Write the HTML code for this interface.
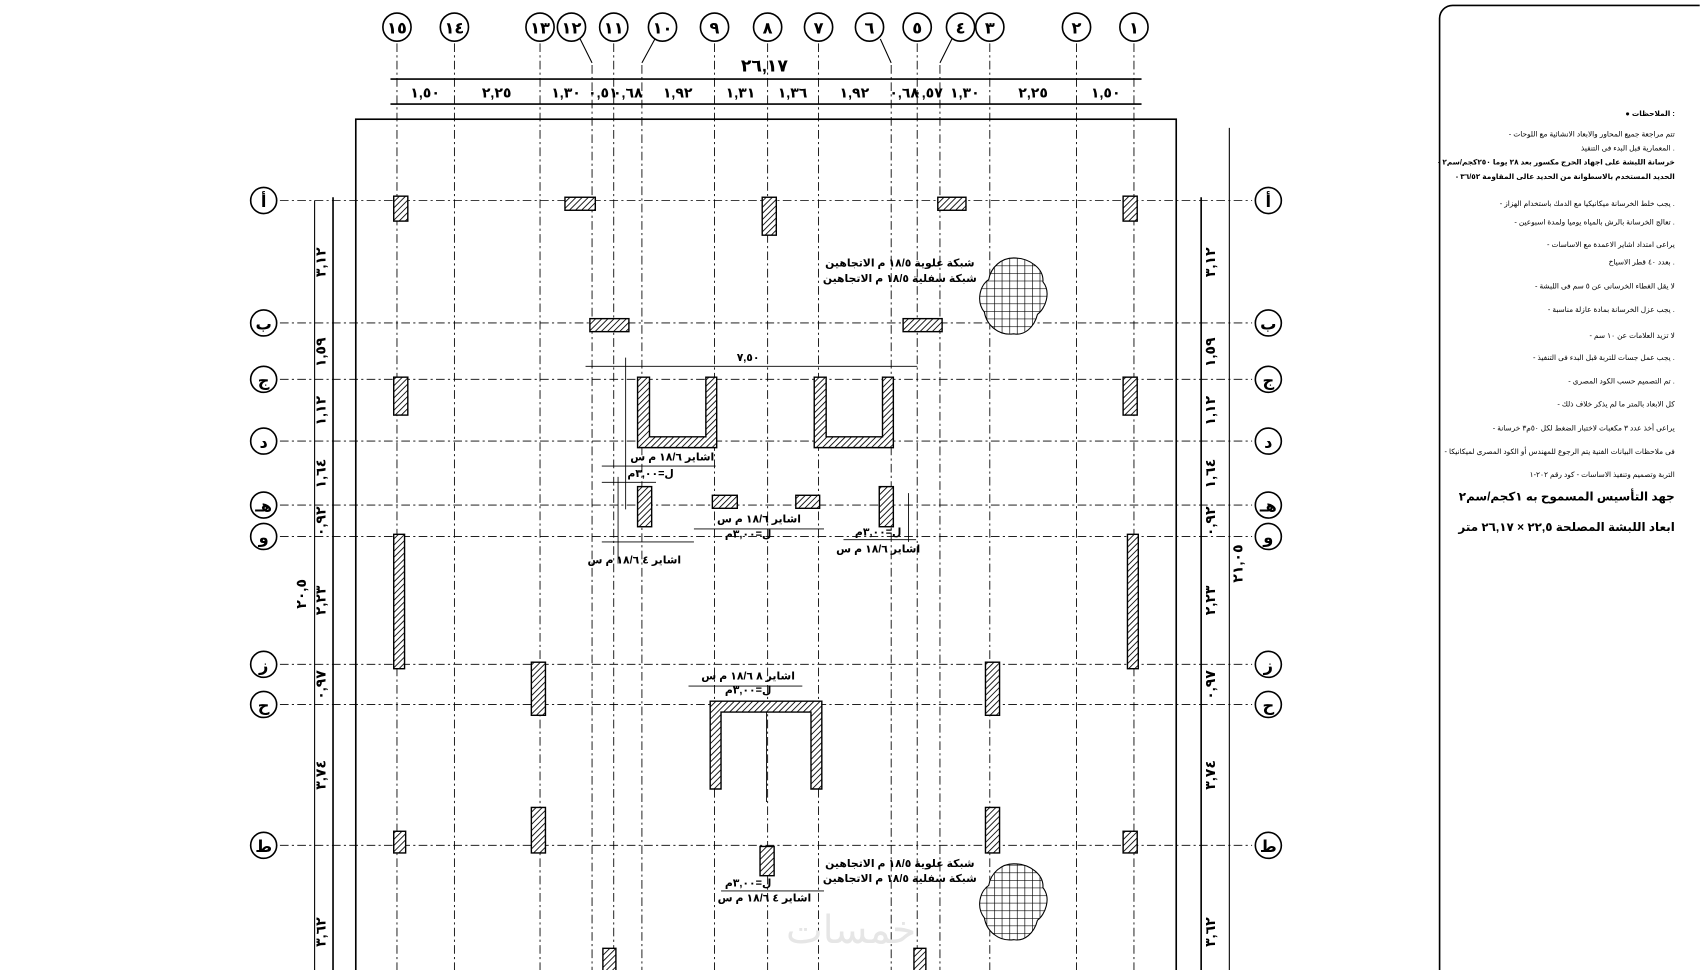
<!DOCTYPE html>
<html><head><meta charset="utf-8"><style>
html,body{margin:0;padding:0;background:#fff;width:1700px;height:970px;overflow:hidden}
svg{display:block}
text{font-family:"Liberation Sans","DejaVu Sans",sans-serif;fill:#000}
</style></head><body>
<svg width="1700" height="970" viewBox="0 0 1568 895" xmlns="http://www.w3.org/2000/svg">
<defs>
<pattern id="h" width="4" height="4" patternUnits="userSpaceOnUse" patternTransform="rotate(45)"><rect width="4" height="4" fill="#fff"/><line x1="0" y1="0" x2="0" y2="4" stroke="#000" stroke-width="1.6"/></pattern>
<pattern id="g" width="7" height="7" patternUnits="userSpaceOnUse"><rect width="7" height="7" fill="#fff"/><path d="M0 0H7M0 0V7" stroke="#000" stroke-width="1.2"/></pattern>
</defs>
<rect width="1568" height="895" fill="#fff"/>
<g stroke="#000" stroke-width="0.8" stroke-dasharray="8,3,2,3">
<line x1="366" y1="40" x2="366" y2="895"/><line x1="419" y1="40" x2="419" y2="895"/>
<line x1="498" y1="40" x2="498" y2="895"/><line x1="546" y1="60" x2="546" y2="895"/>
<line x1="566" y1="40" x2="566" y2="895"/><line x1="592" y1="60" x2="592" y2="895"/>
<line x1="659" y1="40" x2="659" y2="895"/><line x1="708" y1="40" x2="708" y2="895"/>
<line x1="755" y1="40" x2="755" y2="895"/><line x1="822" y1="60" x2="822" y2="895"/>
<line x1="846" y1="40" x2="846" y2="895"/><line x1="867" y1="60" x2="867" y2="895"/>
<line x1="913" y1="40" x2="913" y2="895"/><line x1="993" y1="40" x2="993" y2="895"/>
<line x1="1046" y1="40" x2="1046" y2="895"/>
</g>
<g stroke="#000" stroke-width="0.8" stroke-dasharray="8,3,2,3">
<line x1="258" y1="185" x2="1155" y2="185"/><line x1="258" y1="298" x2="1155" y2="298"/>
<line x1="258" y1="350" x2="1155" y2="350"/><line x1="258" y1="407" x2="1155" y2="407"/>
<line x1="258" y1="466" x2="1155" y2="466"/><line x1="258" y1="495" x2="1155" y2="495"/>
<line x1="258" y1="613" x2="1155" y2="613"/><line x1="258" y1="650" x2="1155" y2="650"/>
<line x1="258" y1="780" x2="1155" y2="780"/>
</g>
<g fill="#fff" stroke="#000" stroke-width="1.5">
<circle cx="366" cy="25" r="13"/><circle cx="419" cy="25" r="13"/><circle cx="498" cy="25" r="13"/><circle cx="527" cy="25" r="13"/>
<circle cx="566" cy="25" r="13"/><circle cx="611" cy="25" r="13"/><circle cx="659" cy="25" r="13"/><circle cx="708" cy="25" r="13"/>
<circle cx="755" cy="25" r="13"/><circle cx="802" cy="25" r="13"/><circle cx="846" cy="25" r="13"/><circle cx="886" cy="25" r="13"/>
<circle cx="913" cy="25" r="13"/><circle cx="993" cy="25" r="13"/><circle cx="1046" cy="25" r="13"/>
</g>
<g font-size="15" font-weight="bold" text-anchor="middle">
<text x="366" y="31">١٥</text><text x="419" y="31">١٤</text><text x="498" y="31">١٣</text><text x="527" y="31">١٢</text>
<text x="566" y="31">١١</text><text x="611" y="31">١٠</text><text x="659" y="31">٩</text><text x="708" y="31">٨</text>
<text x="755" y="31">٧</text><text x="802" y="31">٦</text><text x="846" y="31">٥</text><text x="886" y="31">٤</text>
<text x="913" y="31">٣</text><text x="993" y="31">٢</text><text x="1046" y="31">١</text>
</g>
<g stroke="#000" stroke-width="1" fill="none">
<path d="M535 36 L546 58"/><path d="M604 36 L592 58"/><path d="M812 36 L822 58"/><path d="M878 36 L867 58"/>
<line x1="360" y1="73" x2="1053" y2="73" stroke-width="1.5"/>
<line x1="360" y1="96" x2="1053" y2="96" stroke-width="1.5"/>
<rect x="328" y="110" width="757" height="800" stroke-width="1.5"/>
<line x1="307" y1="182" x2="307" y2="895" stroke-width="1.5"/>
<line x1="290" y1="185" x2="290" y2="895"/>
<line x1="1108" y1="182" x2="1108" y2="895" stroke-width="1.5"/>
<line x1="1134" y1="118" x2="1134" y2="895"/>
</g>
<text x="705" y="66" font-size="16" font-weight="bold" text-anchor="middle">٢٦,١٧</text>
<g font-size="13" font-weight="bold" text-anchor="middle">
<text x="392" y="90">١,٥٠</text><text x="458" y="90">٢,٢٥</text><text x="522" y="90">١,٣٠</text><text x="556" y="90">٠,٥١</text>
<text x="579" y="90">٠,٦٨</text><text x="625" y="90">١,٩٢</text><text x="683" y="90">١,٣١</text><text x="731" y="90">١,٣٦</text>
<text x="788" y="90">١,٩٢</text><text x="834" y="90">٠,٦٨</text><text x="856" y="90">٠,٥٧</text><text x="890" y="90">١,٣٠</text>
<text x="953" y="90">٢,٢٥</text><text x="1020" y="90">١,٥٠</text>
</g>
<g fill="#fff" stroke="#000" stroke-width="1.5">
<circle cx="243" cy="185" r="12"/><circle cx="243" cy="298" r="12"/><circle cx="243" cy="350" r="12"/><circle cx="243" cy="407" r="12"/>
<circle cx="243" cy="466" r="12"/><circle cx="243" cy="495" r="12"/><circle cx="243" cy="613" r="12"/><circle cx="243" cy="650" r="12"/><circle cx="243" cy="780" r="12"/>
<circle cx="1170" cy="185" r="12"/><circle cx="1170" cy="298" r="12"/><circle cx="1170" cy="350" r="12"/><circle cx="1170" cy="407" r="12"/>
<circle cx="1170" cy="466" r="12"/><circle cx="1170" cy="495" r="12"/><circle cx="1170" cy="613" r="12"/><circle cx="1170" cy="650" r="12"/><circle cx="1170" cy="780" r="12"/>
</g>
<g font-size="15" font-weight="bold" text-anchor="middle">
<text x="243" y="191">أ</text><text x="243" y="304">ب</text><text x="243" y="356">ج</text><text x="243" y="413">د</text><text x="243" y="472">هـ</text><text x="243" y="501">و</text><text x="243" y="619">ز</text><text x="243" y="656">ح</text><text x="243" y="786">ط</text>
<text x="1170" y="191">أ</text><text x="1170" y="304">ب</text><text x="1170" y="356">ج</text><text x="1170" y="413">د</text><text x="1170" y="472">هـ</text><text x="1170" y="501">و</text><text x="1170" y="619">ز</text><text x="1170" y="656">ح</text><text x="1170" y="786">ط</text>
</g>
<g font-size="13" font-weight="bold" text-anchor="middle">
<text transform="translate(300,242) rotate(-90)">٣,١٢</text><text transform="translate(300,325) rotate(-90)">١,٥٩</text>
<text transform="translate(300,379) rotate(-90)">١,١٢</text><text transform="translate(300,437) rotate(-90)">١,٦٤</text>
<text transform="translate(300,481) rotate(-90)">٠,٩٢</text><text transform="translate(300,554) rotate(-90)">٢,٢٣</text>
<text transform="translate(300,632) rotate(-90)">٠,٩٧</text><text transform="translate(300,715) rotate(-90)">٣,٧٤</text>
<text transform="translate(300,860) rotate(-90)">٣,٦٢</text><text transform="translate(282,548) rotate(-90)">٢٠,٥</text>
<text transform="translate(1121,242) rotate(-90)">٣,١٢</text><text transform="translate(1121,325) rotate(-90)">١,٥٩</text>
<text transform="translate(1121,379) rotate(-90)">١,١٢</text><text transform="translate(1121,437) rotate(-90)">١,٦٤</text>
<text transform="translate(1121,481) rotate(-90)">٠,٩٢</text><text transform="translate(1121,554) rotate(-90)">٢,٢٣</text>
<text transform="translate(1121,632) rotate(-90)">٠,٩٧</text><text transform="translate(1121,715) rotate(-90)">٣,٧٤</text>
<text transform="translate(1121,860) rotate(-90)">٣,٦٢</text><text transform="translate(1146,520) rotate(-90)">٢١,٠٥</text>
</g>
<g fill="url(#h)" stroke="#000" stroke-width="1.3">
<rect x="363" y="181" width="13" height="23"/><rect x="521" y="182" width="28" height="12"/><rect x="703" y="182" width="13" height="35"/>
<rect x="865" y="182" width="26" height="12"/><rect x="1036" y="181" width="13" height="23"/>
<rect x="544" y="294" width="36" height="12"/><rect x="833" y="294" width="36" height="12"/>
<rect x="363" y="348" width="13" height="35"/><rect x="1036" y="348" width="13" height="35"/>
<path d="M588 348h11v55h52v-55h10v65h-73z"/><path d="M751 348h11v55h52v-55h10v65h-73z"/>
<rect x="588" y="449" width="13" height="37"/><rect x="657" y="457" width="23" height="12"/>
<rect x="734" y="457" width="22" height="12"/><rect x="811" y="449" width="13" height="37"/>
<rect x="363" y="493" width="10" height="124"/><rect x="1040" y="493" width="10" height="124"/>
<rect x="490" y="611" width="13" height="49"/><rect x="909" y="611" width="13" height="49"/>
<path d="M655 647h103v81h-10v-71h-83v71h-10z"/>
<rect x="363" y="767" width="11" height="20"/><rect x="490" y="745" width="13" height="42"/>
<rect x="909" y="745" width="13" height="42"/><rect x="1036" y="767" width="13" height="20"/>
<rect x="701" y="781" width="13" height="27"/>
<rect x="556" y="875" width="12" height="25"/><rect x="843" y="875" width="11" height="25"/>
</g>
<path d="M935 238c15 0 28 10 27 22 8 10 2 25-5 30-3 12-12 20-22 18-14 2-25-8-27-20-8-10-4-25 4-30 2-12 12-20 23-20z" fill="url(#g)" stroke="#000"/>
<path d="M935 797c15 0 28 10 27 22 8 10 2 25-5 30-3 12-12 20-22 18-14 2-25-8-27-20-8-10-4-25 4-30 2-12 12-20 23-20z" fill="url(#g)" stroke="#000"/>
<g stroke="#000" stroke-width="0.8" fill="none">
<line x1="540" y1="338" x2="846" y2="338"/><line x1="577" y1="330" x2="577" y2="470"/>
<line x1="555" y1="430" x2="660" y2="430"/><line x1="555" y1="445" x2="605" y2="445"/>
<line x1="640" y1="488" x2="760" y2="488"/><line x1="778" y1="498" x2="845" y2="498"/>
<line x1="555" y1="500" x2="640" y2="500"/><line x1="635" y1="633" x2="740" y2="633"/>
<line x1="707" y1="657" x2="707" y2="740"/><line x1="665" y1="822" x2="760" y2="822"/>
<line x1="838" y1="455" x2="838" y2="500"/><line x1="570" y1="440" x2="570" y2="520"/>
</g>
<g font-size="10" font-weight="bold" text-anchor="middle">
<text x="690" y="333">٧,٥٠</text><text x="620" y="425">اشاير ١٨/٦ م س</text><text x="600" y="440">ل=٣,٠٠م</text>
<text x="700" y="482">اشاير ١٨/٦ م س</text><text x="690" y="496">ل=٣,٠٠م</text>
<text x="810" y="510">اشاير ١٨/٦ م س</text><text x="810" y="494">ل=٣,٠٠م</text>
<text x="585" y="520">اشاير ٤ ١٨/٦ م س</text><text x="690" y="627">اشاير ٨ ١٨/٦ م س</text>
<text x="690" y="640">ل=٣,٠٠م</text><text x="705" y="832">اشاير ٤ ١٨/٦ م س</text><text x="690" y="818">ل=٣,٠٠م</text>
<text x="830" y="246">شبكة علوية ١٨/٥ م الاتجاهين</text><text x="830" y="260">شبكة سفلية ١٨/٥ م الاتجاهين</text>
<text x="830" y="800">شبكة علوية ١٨/٥ م الاتجاهين</text><text x="830" y="814">شبكة سفلية ١٨/٥ م الاتجاهين</text>
</g>
<path d="M1568 5H1340a12 12 0 0 0-12 12V895" fill="none" stroke="#000" stroke-width="1.5"/>
<g font-size="6.8" text-anchor="end">
<text x="1545" y="107" font-weight="bold">● الملاحظات :</text>
<text x="1545" y="126">- تتم مراجعة جميع المحاور والابعاد الانشائية مع اللوحات</text>
<text x="1545" y="139">المعمارية قبل البدء فى التنفيذ .</text>
<text x="1545" y="152" font-weight="bold">- خرسانة اللبشة على اجهاد الحرج مكسور بعد ٢٨ يوما ٢٥٠كجم/سم٢</text>
<text x="1545" y="165" font-weight="bold">- الحديد المستخدم بالاسطوانة من الحديد عالى المقاومة ٣٦/٥٢</text>
<text x="1545" y="190">- يجب خلط الخرسانة ميكانيكيا مع الدمك باستخدام الهزاز .</text>
<text x="1545" y="207">- تعالج الخرسانة بالرش بالمياه يوميا ولمدة اسبوعين .</text>
<text x="1545" y="228">- يراعى امتداد اشاير الاعمدة مع الاساسات</text>
<text x="1545" y="244">بعدد ٤٠ قطر الاسياخ .</text>
<text x="1545" y="266">- لا يقل الغطاء الخرسانى عن ٥ سم فى اللبشة</text>
<text x="1545" y="288">- يجب عزل الخرسانة بمادة عازلة مناسبة .</text>
<text x="1545" y="312">- لا تزيد العلامات عن ١٠ سم</text>
<text x="1545" y="332">- يجب عمل جسات للتربة قبل البدء فى التنفيذ .</text>
<text x="1545" y="354">- تم التصميم حسب الكود المصرى .</text>
<text x="1545" y="375">- كل الابعاد بالمتر ما لم يذكر خلاف ذلك</text>
<text x="1545" y="397">- يراعى أخذ عدد ٣ مكعبات لاختبار الضغط لكل ٥٠م٣ خرسانة</text>
<text x="1545" y="419">- فى ملاحظات البيانات الفنية يتم الرجوع للمهندس أو الكود المصرى لميكانيكا</text>
<text x="1545" y="440">التربة وتصميم وتنفيذ الاساسات - كود رقم ٢٠٢-١</text>
<text x="1545" y="462" font-size="11" font-weight="bold">جهد التأسيس المسموح به ١كجم/سم٢</text>
<text x="1545" y="490" font-size="11" font-weight="bold">ابعاد اللبشة المصلحة ٢٢,٥ × ٢٦,١٧ متر</text>
</g>
<text x="785" y="870" font-size="36" text-anchor="middle" style="fill:#e6e6e6">خمسات</text>
</svg>
</body></html>
